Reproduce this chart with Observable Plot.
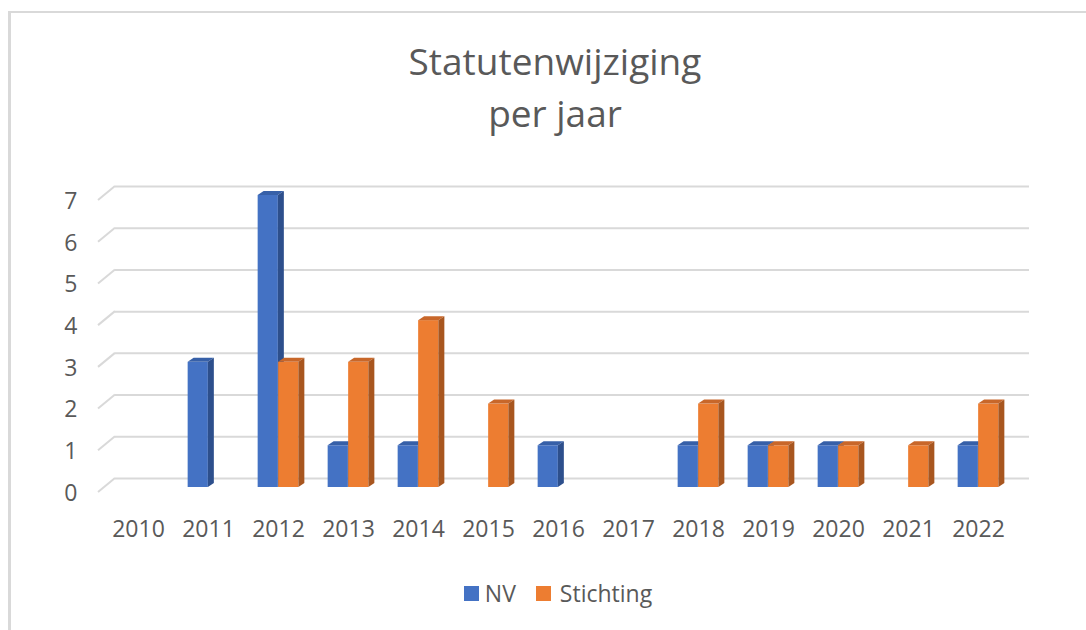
<!DOCTYPE html>
<html>
<head>
<meta charset="utf-8">
<script src="https://cdn.jsdelivr.net/npm/d3@7"></script>
<script src="https://cdn.jsdelivr.net/npm/@observablehq/plot@0.6"></script>
<style>
  body { margin: 0; background: #fff; font-family: "Open Sans", sans-serif; }
  #page { position: relative; width: 1086px; height: 630px; overflow: hidden; background: #fff; }
  #frame { position: absolute; left: 8px; top: 11px; width: 1200px; height: 800px; border-top: 2px solid #d9d9d9; border-left: 3px solid #d9d9d9; box-sizing: border-box; }
  .title { position: absolute; left: 0; width: 1110px; text-align: center; color: #595959; font-size: 37px; line-height: 52px; white-space: nowrap; }
  #chart { position: absolute; left: 0; top: 150px; }
  #legend { position: absolute; left: 0; top: 578px; width: 1116px; height: 30px; display: flex; justify-content: center; align-items: center; color: #595959; font-size: 23px; }
  .item { display: flex; align-items: center; }
  .sw { width: 15px; height: 15px; display: inline-block; }
</style>
</head>
<body>
<div id="page">
  <div id="frame"></div>
  <div class="title" style="top:35px">Statutenwijziging</div>
  <div class="title" style="top:87px">per jaar</div>
  <div id="chart"></div>
  <div id="legend"></div>
</div>
<script>
const years = ["2010","2011","2012","2013","2014","2015","2016","2017","2018","2019","2020","2021","2022"];
const nv        = [0, 3, 7, 1, 1, 0, 1, 0, 1, 1, 1, 0, 1];
const stichting = [0, 0, 3, 3, 4, 2, 0, 0, 2, 1, 1, 1, 2];
const seriesNames = ["NV", "Stichting"];
const yTicks = [0, 1, 2, 3, 4, 5, 6, 7];
const palette = {
  NV:        {front: "#4472C4", top: "#3760A8", side: "#2D4F8C"},
  Stichting: {front: "#ED7D31", top: "#C8672A", side: "#A8561F"}
};

const rowsNV = years.map((y, i) => ({year: y, series: "NV", value: nv[i]})).filter(d => d.value > 0);
const rowsST = years.map((y, i) => ({year: y, series: "Stichting", value: stichting[i]})).filter(d => d.value > 0);

const W = 1086, H = 400, ML = 101, MR = 71, MT = 45, MB = 63;
const bw = (W - ML - MR) / years.length;
const barW = 20.5;
const half = bw / 2;
const depthX = 6, depthY = 4;

const plot = Plot.plot({
  width: W, height: H,
  marginLeft: ML, marginRight: MR, marginTop: MT, marginBottom: MB,
  x: {domain: years, padding: 0, label: null},
  y: {domain: [0, 7], label: null},
  style: {fontFamily: "Open Sans, sans-serif", fontSize: "23px", color: "#595959", background: "transparent"},
  marks: [
    Plot.ruleY(yTicks, {dx: 14, dy: -9, stroke: "#d9d9d9", strokeWidth: 2}),
    Plot.axisY(yTicks, {tickSize: 0, tickPadding: 24, dy: 6, fill: "#595959", fontSize: 23, label: null, tickFormat: d => String(d)}),
    Plot.axisX({tickSize: 0, tickPadding: 33, fill: "#595959", fontSize: 23, label: null}),
    Plot.barY(rowsNV, {x: "year", y: "value", fill: palette.NV.front, insetLeft: half - barW, insetRight: half}),
    Plot.barY(rowsST, {x: "year", y: "value", fill: palette.Stichting.front, insetLeft: half, insetRight: half - barW})
  ]
});

document.getElementById("chart").appendChild(plot);

const svg = d3.select(plot);
const SVGNS = "http://www.w3.org/2000/svg";

// 3D faces derived from the bars Plot drew
let firstBarGroup = null;
seriesNames.forEach(name => {
  const groups = svg.selectAll("g").filter(function() {
    return (this.getAttribute("fill") || "").toLowerCase() === palette[name].front.toLowerCase() && this.querySelector("rect");
  });
  const node = groups.node();
  if (!node) return;
  if (!firstBarGroup) firstBarGroup = node;
  const faces = document.createElementNS(SVGNS, "g");
  if (node.getAttribute("transform")) faces.setAttribute("transform", node.getAttribute("transform"));
  node.parentNode.insertBefore(faces, node.nextSibling);
  const fg = d3.select(faces);
  d3.select(node).selectAll("rect").each(function() {
    const r = d3.select(this);
    const x = +r.attr("x"), y = +r.attr("y"), w = +r.attr("width"), h = +r.attr("height");
    fg.append("polygon")
      .attr("points", [[x, y], [x + depthX, y - depthY], [x + w + depthX, y - depthY], [x + w, y]].join(" "))
      .attr("fill", palette[name].top);
    fg.append("polygon")
      .attr("points", [[x + w, y], [x + w + depthX, y - depthY], [x + w + depthX, y + h - depthY], [x + w, y + h]].join(" "))
      .attr("fill", palette[name].side);
  });
});

// left wall diagonals for each gridline
const ys = plot.scale("y");
const xs = plot.scale("x");
const x0 = xs.range[0];
const diag = document.createElementNS(SVGNS, "g");
if (firstBarGroup) firstBarGroup.parentNode.insertBefore(diag, firstBarGroup);
else plot.appendChild(diag);
yTicks.forEach(v => {
  const yy = ys.apply(v);
  d3.select(diag).append("line")
    .attr("x1", x0 + 14).attr("y1", yy - 9)
    .attr("x2", x0 - 3).attr("y2", yy + 5)
    .attr("stroke", "#d9d9d9").attr("stroke-width", 2);
});

// legend
const legend = d3.select("#legend");
seriesNames.forEach((name, i) => {
  const item = legend.append("div").attr("class", "item").style("margin-left", i ? "20px" : "0");
  item.append("span").attr("class", "sw").style("background", palette[name].front).style("margin-right", i ? "9px" : "6px");
  item.append("span").text(name);
});
</script>
</body>
</html>
